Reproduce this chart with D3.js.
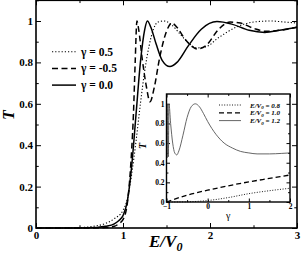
<!DOCTYPE html>
<html>
<head>
<meta charset="utf-8">
<script src="https://cdn.jsdelivr.net/npm/d3@7"></script>
<style>
  body { margin: 0; background: #fff; }
</style>
</head>
<body>
<svg id="chart" width="301" height="256"></svg>
<script>
// main panel: T vs E/V0 for three gamma values
const energyPos = [0, 0.4, 0.5, 0.6, 0.7, 0.8, 0.9, 1.0, 1.05, 1.1, 1.15, 1.2, 1.25, 1.3, 1.35, 1.4, 1.47, 1.55, 1.65, 1.75, 1.85, 1.95, 2.1, 2.3, 2.5, 2.7, 2.85, 3.0];
const transPos  = [0, 0.0005, 0.002, 0.005, 0.011, 0.022, 0.045, 0.085, 0.14, 0.26, 0.42, 0.6, 0.76, 0.88, 0.96, 0.995, 1.0, 0.985, 0.94, 0.895, 0.87, 0.875, 0.92, 0.97, 0.995, 1.0, 0.995, 0.99];

const energyNeg = [0, 0.6, 0.8, 0.9, 0.95, 1.0, 1.05, 1.08, 1.1, 1.12, 1.14, 1.16, 1.18, 1.22, 1.27, 1.31, 1.36, 1.42, 1.5, 1.56, 1.62, 1.7, 1.8, 1.85, 1.95, 2.1, 2.23, 2.35, 2.5, 2.65, 2.8, 3.0];
const transNeg  = [0, 0, 0.002, 0.008, 0.02, 0.04, 0.12, 0.25, 0.38, 0.55, 0.8, 1.0, 0.96, 0.82, 0.68, 0.61, 0.68, 0.82, 0.95, 0.99, 0.97, 0.92, 0.875, 0.865, 0.88, 0.96, 0.995, 0.99, 0.965, 0.95, 0.955, 0.97];

const energyZero = [0, 0.5, 0.7, 0.8, 0.9, 0.95, 1.0, 1.05, 1.1, 1.15, 1.2, 1.25, 1.28, 1.32, 1.38, 1.45, 1.54, 1.62, 1.75, 1.9, 2.08, 2.25, 2.45, 2.63, 2.8, 3.0];
const transZero  = [0, 0.0005, 0.003, 0.008, 0.02, 0.035, 0.06, 0.13, 0.3, 0.55, 0.8, 0.96, 1.0, 0.97, 0.89, 0.81, 0.78, 0.8, 0.88, 0.96, 0.997, 0.985, 0.955, 0.945, 0.955, 0.97];

const mainLegend = ["\u03b3 = 0.5", "\u03b3 = -0.5", "\u03b3 = 0.0"];
const mainXTicks = [0, 1, 2, 3];
const mainYTicks = [0, 0.2, 0.4, 0.6, 0.8, 1];

// inset: T vs gamma for three energies
const gammaE08 = [-1, -0.5, -0.2, 0, 0.5, 1, 1.5, 2];
const transE08 = [0, 0.002, 0.008, 0.015, 0.045, 0.085, 0.115, 0.14];

const gammaE10 = [-1, -0.5, 0, 0.5, 1, 1.5, 2];
const transE10 = [0, 0.07, 0.12, 0.165, 0.205, 0.24, 0.275];

const gammaE12 = [-1, -0.985, -0.97, -0.955, -0.94, -0.9, -0.85, -0.8, -0.75, -0.7, -0.6, -0.5, -0.4, -0.3, -0.2, -0.1, 0, 0.2, 0.4, 0.6, 0.8, 1.0, 1.2, 1.5, 1.8, 2.0];
const transE12 = [0.98, 0.45, 1.0, 0.46, 1.0, 0.8, 0.6, 0.5, 0.48, 0.52, 0.68, 0.86, 0.97, 1.0, 0.97, 0.9, 0.82, 0.69, 0.6, 0.55, 0.515, 0.5, 0.49, 0.49, 0.495, 0.5];

const insetLegend = ["0.8", "1.0", "1.2"];
const insetXTicks = [-1, 0, 1, 2];
const insetYTicks = [0, 0.2, 0.4, 0.6, 0.8, 1];

const serif = "Liberation Serif";
const svg = d3.select("#chart");

const x = d3.scaleLinear().domain([0, 3]).range([36, 297]);
const y = d3.scaleLinear().domain([0, 1.1]).range([228, 0.3]);

const ix = d3.scaleLinear().domain([-1, 2]).range([166.5, 290]);
const iy = d3.scaleLinear().domain([0, 1.1]).range([202, 94]);

const fmt = d3.format("~g");

// box of ticks on all four sides, pointing inward
function drawFrame(g, sx, sy, major, minorX, minorY, xt, yt, fs, pad) {
  const [x0, x1] = sx.range();
  const [y0, y1] = sy.range();

  const bottom = g.append("g").attr("transform", `translate(0,${y0})`)
    .call(d3.axisBottom(sx).tickValues(xt).tickSizeInner(-major).tickSizeOuter(0).tickPadding(pad).tickFormat(fmt));
  const left = g.append("g").attr("transform", `translate(${x0},0)`)
    .call(d3.axisLeft(sy).tickValues(yt).tickSizeInner(-major).tickSizeOuter(0).tickPadding(pad).tickFormat(fmt));
  g.append("g").attr("transform", `translate(0,${y1})`)
    .call(d3.axisTop(sx).tickValues(xt).tickSizeInner(-major).tickSizeOuter(0).tickFormat(""));
  g.append("g").attr("transform", `translate(${x1},0)`)
    .call(d3.axisRight(sy).tickValues(yt).tickSizeInner(-major).tickSizeOuter(0).tickFormat(""));

  g.append("g").attr("transform", `translate(0,${y0})`)
    .call(d3.axisBottom(sx).tickValues(minorX).tickSize(-major * 0.55).tickFormat(""));
  g.append("g").attr("transform", `translate(0,${y1})`)
    .call(d3.axisTop(sx).tickValues(minorX).tickSize(-major * 0.55).tickFormat(""));
  g.append("g").attr("transform", `translate(${x0},0)`)
    .call(d3.axisLeft(sy).tickValues(minorY).tickSize(-major * 0.55).tickFormat(""));
  g.append("g").attr("transform", `translate(${x1},0)`)
    .call(d3.axisRight(sy).tickValues(minorY).tickSize(-major * 0.55).tickFormat(""));

  g.selectAll(".domain").remove();
  g.selectAll(".tick line").attr("stroke", "#000").attr("stroke-width", 1);
  [bottom, left].forEach((a) =>
    a.selectAll("text")
      .attr("font-family", serif)
      .attr("font-weight", "bold")
      .attr("font-size", fs)
      .attr("fill", "#000")
  );
  return { bottom, left };
}

// ---------- main panel ----------
const main = svg.append("g");
const mainMinorX = [0.5, 1.5, 2.5];
const mainMinorY = [0.1, 0.3, 0.5, 0.7, 0.9, 1.1];
drawFrame(main, x, y, 5, mainMinorX, mainMinorY, mainXTicks, mainYTicks, 11, 3);

const mainSeries = [
  { e: energyPos, t: transPos, dash: "1.2,2", w: 1.1 },
  { e: energyNeg, t: transNeg, dash: "6,3.5", w: 1.5 },
  { e: energyZero, t: transZero, dash: null, w: 1.5 },
];

const mainLine = d3.line().curve(d3.curveMonotoneX);
mainSeries.forEach((s) => {
  main.append("path")
    .attr("d", mainLine(s.e.map((e, i) => [x(e), y(s.t[i])])))
    .attr("fill", "none")
    .attr("stroke", "#000")
    .attr("stroke-width", s.w)
    .attr("stroke-dasharray", s.dash);
});

main.append("rect")
  .attr("x", x(0)).attr("y", y(1.1))
  .attr("width", x(3) - x(0)).attr("height", y(0) - y(1.1))
  .attr("fill", "none").attr("stroke", "#000").attr("stroke-width", 1.6);

// legend
mainLegend.forEach((label, i) => {
  const ly = 51.7 + i * 16.7;
  main.append("line")
    .attr("x1", 52).attr("x2", 76).attr("y1", ly).attr("y2", ly)
    .attr("stroke", "#000")
    .attr("stroke-width", mainSeries[i].w)
    .attr("stroke-dasharray", mainSeries[i].dash);
  main.append("text")
    .attr("x", 81).attr("y", ly + 4)
    .attr("font-family", serif).attr("font-weight", "bold").attr("font-size", 11.5)
    .text(label);
});

// axis titles
main.append("text")
  .attr("transform", "translate(14,115) rotate(-90)")
  .attr("text-anchor", "middle")
  .attr("font-family", serif).attr("font-weight", "bold").attr("font-style", "italic")
  .attr("font-size", 16)
  .text("T");

const xt = main.append("text")
  .attr("x", 149).attr("y", 247)
  .attr("font-family", serif).attr("font-weight", "bold").attr("font-style", "italic")
  .attr("font-size", 17);
xt.append("tspan").text("E/V");
xt.append("tspan").attr("dy", 4).attr("font-size", 12).text("0");

// ---------- inset ----------
const inset = svg.append("g");
inset.append("rect")
  .attr("x", ix(-1)).attr("y", iy(1.1))
  .attr("width", ix(2) - ix(-1)).attr("height", iy(0) - iy(1.1))
  .attr("fill", "#fff");

const insetMinorX = [-0.5, 0.5, 1.5];
const insetMinorY = [0.1, 0.3, 0.5, 0.7, 0.9];
drawFrame(inset, ix, iy, 3.5, insetMinorX, insetMinorY, insetXTicks, insetYTicks, 7.5, 2);

const insetSeries = [
  { g: gammaE08, t: transE08, dash: "1,1.6", w: 0.9, c: "#000" },
  { g: gammaE10, t: transE10, dash: "5,3", w: 1.3, c: "#000" },
  { g: gammaE12, t: transE12, dash: null, w: 0.9, c: "#555" },
];

const insetLine = d3.line().curve(d3.curveMonotoneX);
insetSeries.forEach((s) => {
  inset.append("path")
    .attr("d", insetLine(s.g.map((g, i) => [ix(g), iy(s.t[i])])))
    .attr("fill", "none")
    .attr("stroke", s.c)
    .attr("stroke-width", s.w)
    .attr("stroke-dasharray", s.dash);
});

inset.append("rect")
  .attr("x", ix(-1)).attr("y", iy(1.1))
  .attr("width", ix(2) - ix(-1)).attr("height", iy(0) - iy(1.1))
  .attr("fill", "none").attr("stroke", "#000").attr("stroke-width", 1.4);

insetLegend.forEach((v, i) => {
  const ly = 105 + i * 7.8;
  const s = insetSeries[i];
  inset.append("line")
    .attr("x1", 219).attr("x2", 241).attr("y1", ly).attr("y2", ly)
    .attr("stroke", s.c).attr("stroke-width", s.w)
    .attr("stroke-dasharray", s.dash);
  const t = inset.append("text")
    .attr("x", 250).attr("y", ly + 2.5)
    .attr("font-family", serif).attr("font-weight", "bold").attr("font-style", "italic")
    .attr("font-size", 7);
  t.append("tspan").text("E/V");
  t.append("tspan").attr("dy", 1.5).attr("font-size", 5).text("0");
  t.append("tspan").attr("dy", -1.5).text(" = " + v);
});

inset.append("text")
  .attr("transform", "translate(146,146) rotate(-90)")
  .attr("text-anchor", "middle")
  .attr("font-family", serif).attr("font-weight", "bold").attr("font-style", "italic")
  .attr("font-size", 10)
  .text("T");

inset.append("text")
  .attr("x", ix(0.5)).attr("y", 219)
  .attr("text-anchor", "middle")
  .attr("font-family", serif).attr("font-size", 10)
  .text("\u03b3");
</script>
</body>
</html>
